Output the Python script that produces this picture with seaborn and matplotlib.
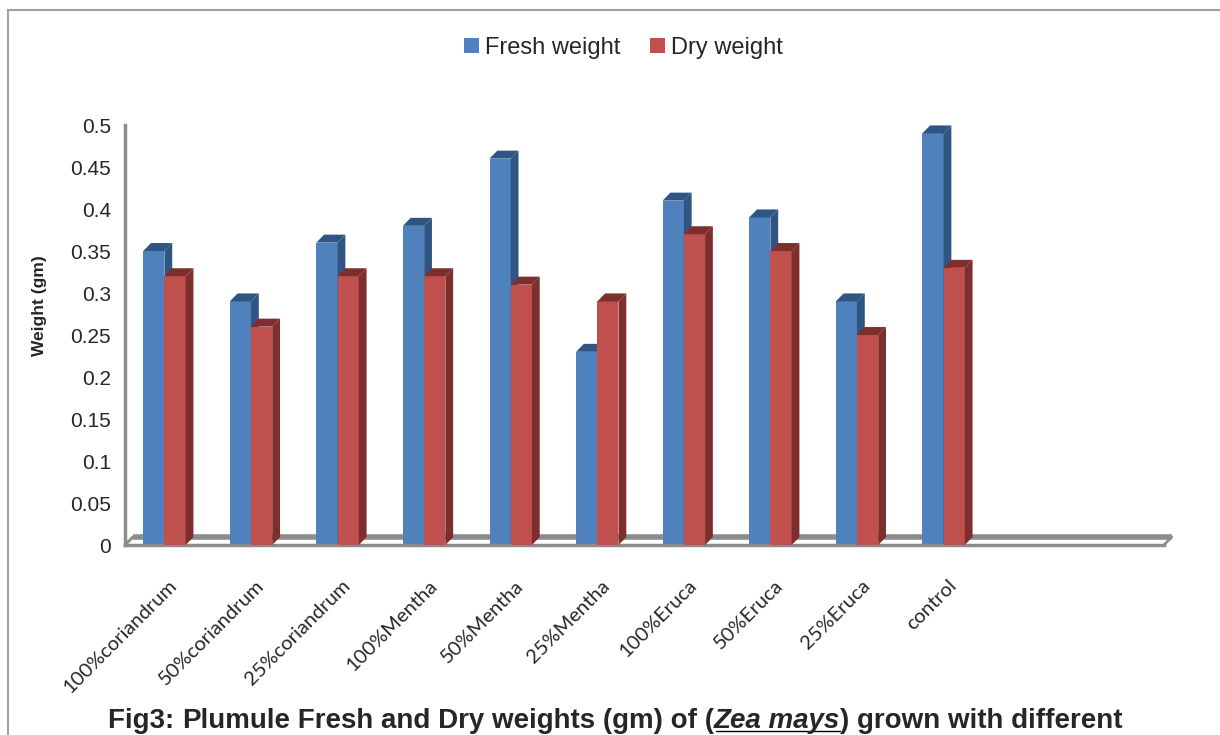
import pandas as pd
import seaborn as sns
import matplotlib.pyplot as plt
from matplotlib.patches import Polygon, Patch, Rectangle
from matplotlib.lines import Line2D

# data
treatments = ['100%coriandrum', '50%coriandrum', '25%coriandrum', '100%Mentha', '50%Mentha',
              '25%Mentha', '100%Eruca', '50%Eruca', '25%Eruca', 'control']
fresh_weight = [0.35, 0.29, 0.36, 0.38, 0.46, 0.23, 0.41, 0.39, 0.29, 0.49]
dry_weight = [0.32, 0.26, 0.32, 0.32, 0.31, 0.29, 0.37, 0.35, 0.25, 0.33]
series = ['Fresh weight', 'Dry weight']
y_ticks = [0, 0.05, 0.1, 0.15, 0.2, 0.25, 0.3, 0.35, 0.4, 0.45, 0.5]

colors = {'Fresh weight': '#4F81BD', 'Dry weight': '#C0504D'}
dark = {'Fresh weight': '#2F5582', 'Dry weight': '#7E2F2D'}

df = pd.DataFrame({
    'treatment': treatments * 2,
    'series': ['Fresh weight'] * len(treatments) + ['Dry weight'] * len(treatments),
    'weight': fresh_weight + dry_weight,
})

sns.set_style('white')
plt.rcParams['font.family'] = ['Liberation Sans', 'DejaVu Sans']

fig = plt.figure(figsize=(12.2, 7.35), dpi=100)
ax = fig.add_axes([0.1025, 0.2585, 0.8515, 0.5714])

sns.barplot(data=df, x='treatment', y='weight', hue='series', hue_order=series,
            palette=colors, width=0.49, saturation=1, legend=False, ax=ax,
            edgecolor='none', linewidth=0)

# fake 3D depth
dx, dy = 0.09, 0.0095
for i, p in enumerate(list(ax.patches)):
    name = series[0] if i < len(treatments) else series[1]
    z = 2 if name == series[0] else 4
    p.set_zorder(z)
    p.set_x(p.get_x() - 0.045)
    x0, w, h = p.get_x(), p.get_width(), p.get_height()
    side = Polygon([(x0 + w, 0), (x0 + w + dx, dy), (x0 + w + dx, h + dy), (x0 + w, h)],
                   closed=True, facecolor=dark[name], edgecolor='none', zorder=z + 0.5)
    top = Polygon([(x0, h), (x0 + dx, h + dy), (x0 + w + dx, h + dy), (x0 + w, h)],
                  closed=True, facecolor=dark[name], edgecolor='none', zorder=z + 0.5)
    ax.add_patch(side)
    ax.add_patch(top)

n_slots = 12
ax.set_xlim(-0.5, n_slots - 0.5)
ax.set_ylim(0, 0.5)

# floor back edge
grey = '#8C8C8C'
ax.add_line(Line2D([-0.5 + dx, n_slots - 0.5 + dx], [dy, dy], color=grey, lw=4,
                   zorder=1, solid_capstyle='butt', clip_on=False))
ax.add_line(Line2D([-0.5, -0.5 + dx], [0, dy], color=grey, lw=2, zorder=1, clip_on=False))
ax.add_line(Line2D([n_slots - 0.5, n_slots - 0.5 + dx], [0, dy], color=grey, lw=2,
                   zorder=1, clip_on=False))

for s in ['top', 'right']:
    ax.spines[s].set_visible(False)
for s in ['left', 'bottom']:
    ax.spines[s].set_color(grey)
    ax.spines[s].set_linewidth(2.5)

ax.set_yticks(y_ticks)
ax.set_yticklabels([f'{v:g}' for v in y_ticks], fontsize=15)
ax.tick_params(axis='y', length=6, width=1.5, color=grey, pad=4)

ax.set_xticks(range(len(treatments)))
ax.set_xticklabels(treatments, rotation=45, ha='right', rotation_mode='anchor',
                   fontsize=14.5, family=['Lato', 'DejaVu Sans'])
ax.tick_params(axis='x', length=0, pad=23)
ax.set_xticks([k - 0.5 for k in range(n_slots + 1)], minor=True)
ax.tick_params(axis='x', which='minor', length=6, width=1.5, color=grey)

ax.set_xlabel('')
ax.set_ylabel('Weight (gm)', fontsize=12.5, fontweight='bold')
ax.yaxis.set_label_coords(-0.075, 0.571)

handles = [Patch(facecolor=colors[s], edgecolor='none') for s in series]
fig.legend(handles, series, loc='center', bbox_to_anchor=(0.511, 0.935), ncol=2,
           frameon=False, fontsize=17, handlelength=0.64, handleheight=0.64,
           handletextpad=0.25, columnspacing=1.27)

# outer border
fig.add_artist(Rectangle((8 / 1220, -0.1), 1.2, 1 - 10 / 735 + 0.1, transform=fig.transFigure,
                         fill=False, edgecolor='#A0A0A0', lw=1.5))

# caption, built from pieces
base_y = 0.009
tfont = dict(family=['Liberation Sans Narrow', 'Liberation Sans', 'DejaVu Sans'],
             fontsize=20, fontweight='bold', va='baseline')
pieces = [('Fig3: ', 'normal'), ('Plumule', 'normal'),
          (' Fresh and Dry weights (gm) of (', 'normal'), ('Zea mays', 'italic'),
          (') grown with different', 'normal')]
texts = [fig.text(0.0885, base_y, txt, style=style, **tfont) for txt, style in pieces]

fig.canvas.draw()
r = fig.canvas.get_renderer()
x = texts[0].get_window_extent(r).x1
for t in texts[1:]:
    t.set_x(x / fig.bbox.width)
    x = t.get_window_extent(r).x1

# underline under Zea mays
bb = texts[3].get_window_extent(r)
fig.add_artist(Line2D([bb.x0 / 1220 + 0.002, bb.x1 / 1220], [base_y - 0.004] * 2,
                      transform=fig.transFigure, color='black', lw=1))

fig.savefig('out.png', dpi=100)
